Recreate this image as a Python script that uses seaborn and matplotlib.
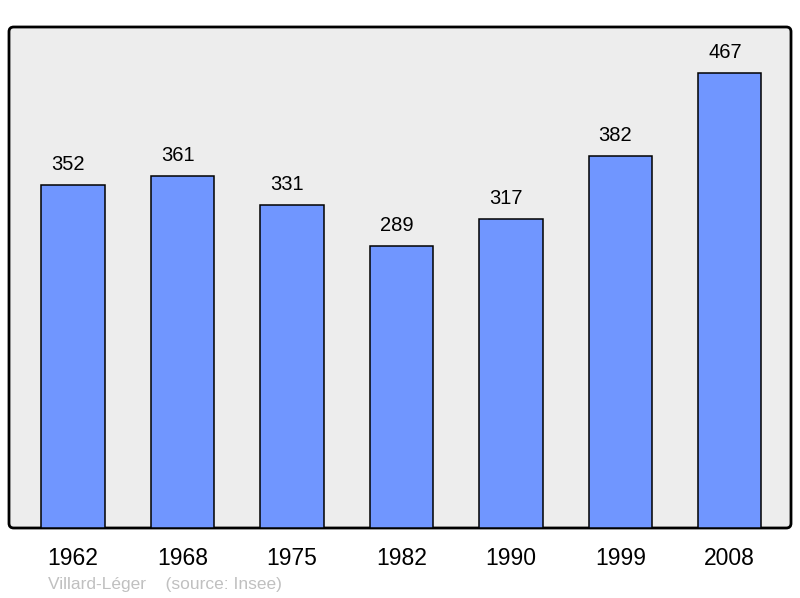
import matplotlib
matplotlib.use("Agg")
import matplotlib.pyplot as plt
from matplotlib.patches import FancyBboxPatch
import seaborn as sns
import pandas as pd

# population by census year
years = ['1962', '1968', '1975', '1982', '1990', '1999', '2008']
population = [352, 361, 331, 289, 317, 382, 467]

df = pd.DataFrame({'year': years, 'population': population})

sns.set_style("white")
plt.rcParams['font.family'] = ['Liberation Sans', 'DejaVu Sans']
plt.rcParams['text.color'] = 'black'
plt.rcParams['xtick.color'] = 'black'

fig = plt.figure(figsize=(8, 5.98), dpi=100)
ax = fig.add_axes([9 / 800, 1 - 528 / 598, 782 / 800, 501 / 598])

sns.barplot(data=df, x='year', y='population', color='#7096ff',
            saturation=1, width=0.58, edgecolor='black', linewidth=1.1, ax=ax)

# background frame with rounded corners
ax.patch.set_visible(False)
box = FancyBboxPatch((0, 0), 1, 1, boxstyle="round,pad=0,rounding_size=0.006",
                     mutation_aspect=782 / 501, transform=ax.transAxes,
                     facecolor='#ededed', edgecolor='black', linewidth=2,
                     zorder=0, clip_on=False)
ax.add_patch(box)
for s in ax.spines.values():
    s.set_visible(False)

for i, v in enumerate(population):
    ax.annotate(str(v), (i, v), xytext=(-3.5, 8), textcoords='offset points',
                ha='center', va='bottom', fontsize=14.5)

ax.set_xlim(-0.585, 6.56)
ax.set_ylim(0, 514)
ax.set_yticks([])
ax.tick_params(axis='x', length=0, pad=14, labelsize=16.5)
ax.set_xlabel('')
ax.set_ylabel('')

fig.text(48 / 800, 1 - 584 / 598, 'Villard-Léger    (source: Insee)',
         color='#c0c0c0', fontsize=12.5, va='center', ha='left')

fig.savefig('out.png', dpi=100)
